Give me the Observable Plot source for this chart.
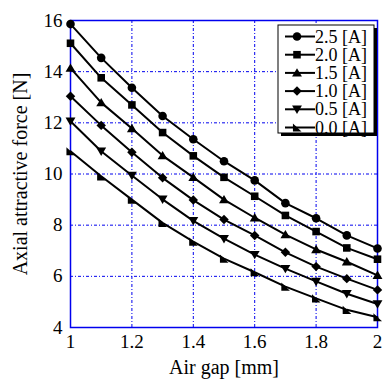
<!DOCTYPE html>
<html>
<head>
<meta charset="utf-8">
<script src="https://cdn.jsdelivr.net/npm/d3@7"></script>
<script src="https://cdn.jsdelivr.net/npm/@observablehq/plot@0.6"></script>
<style>
  html, body { margin: 0; padding: 0; background: white; }
  #chart { position: relative; width: 384px; height: 381px; }
</style>
</head>
<body>
<div id="chart"></div>
<script>
const airGap = [1.0, 1.1, 1.2, 1.3, 1.4, 1.5, 1.6, 1.7, 1.8, 1.9, 2.0];
const seriesNames = ["2.5 [A]", "2.0 [A]", "1.5 [A]", "1.0 [A]", "0.5 [A]", "0.0 [A]"];
const force25 = [15.86, 14.54, 13.37, 12.27, 11.36, 10.50, 9.75, 8.86, 8.27, 7.60, 7.09];
const force20 = [15.11, 13.76, 12.70, 11.62, 10.71, 9.87, 9.13, 8.38, 7.75, 7.11, 6.67];
const force15 = [14.14, 12.79, 11.78, 10.72, 9.87, 9.00, 8.29, 7.63, 7.05, 6.57, 6.04];
const force10 = [13.04, 11.90, 10.85, 9.85, 8.98, 8.22, 7.60, 6.94, 6.38, 5.91, 5.47];
const force05 = [12.06, 10.89, 9.94, 9.01, 8.17, 7.47, 6.85, 6.30, 5.80, 5.32, 4.92];
const force00 = [10.89, 9.91, 9.00, 8.09, 7.36, 6.69, 6.16, 5.60, 5.14, 4.69, 4.40];
const xTicks = [1, 1.2, 1.4, 1.6, 1.8, 2];
const yTicks = [4, 6, 8, 10, 12, 14, 16];

const allValues = [force25, force20, force15, force10, force05, force00];
const data = seriesNames.flatMap((name, s) =>
  airGap.map((x, i) => ({x, y: allValues[s][i], name})));

// custom marker shapes
const triDown = {
  draw(ctx, size) {
    const r = Math.sqrt(size / Math.PI) * 1.15;
    ctx.moveTo(-r, -r * 0.75);
    ctx.lineTo(r, -r * 0.75);
    ctx.lineTo(0, r * 0.95);
    ctx.closePath();
  }
};
const triUp = {
  draw(ctx, size) {
    const r = Math.sqrt(size / Math.PI) * 1.15;
    ctx.moveTo(-r, r * 0.75);
    ctx.lineTo(r, r * 0.75);
    ctx.lineTo(0, -r * 0.95);
    ctx.closePath();
  }
};
const diamond = {
  draw(ctx, size) {
    const r = Math.sqrt(size / Math.PI) * 1.1;
    ctx.moveTo(0, -r);
    ctx.lineTo(r, 0);
    ctx.lineTo(0, r);
    ctx.lineTo(-r, 0);
    ctx.closePath();
  }
};
const square = {
  draw(ctx, size) {
    const r = Math.sqrt(size / Math.PI) * 0.88;
    ctx.rect(-r, -r, 2 * r, 2 * r);
  }
};
const lowerLeft = {
  draw(ctx, size) {
    const r = Math.sqrt(size / Math.PI) * 0.95;
    ctx.moveTo(-r, -r);
    ctx.lineTo(-r, r);
    ctx.lineTo(r * 1.1, r);
    ctx.closePath();
  }
};
const symbols = [d3.symbolCircle, square, triUp, diamond, triDown, lowerLeft];

const font = "'Liberation Serif', 'Times New Roman', serif";
const gridColor = "#0000ee";

const plot = Plot.plot({
  width: 384,
  height: 381,
  marginLeft: 70,
  marginRight: 7,
  marginTop: 20,
  marginBottom: 54,
  style: {fontFamily: font, fontSize: "19px", background: "white", color: "black"},
  x: {domain: [1, 2]},
  y: {domain: [4, 16]},
  symbol: {domain: seriesNames, range: symbols},
  marks: [
    Plot.gridX(xTicks, {stroke: gridColor, strokeOpacity: 1, strokeWidth: 1, strokeDasharray: "3,2,1,2"}),
    Plot.gridY(yTicks, {stroke: gridColor, strokeOpacity: 1, strokeWidth: 1, strokeDasharray: "3,2,1,2"}),
    Plot.frame({stroke: gridColor, strokeWidth: 1.5}),
    Plot.axisX({ticks: xTicks, tickSize: 0, tickPadding: 7, tickFormat: d => String(d),
      label: null, fontSize: 19}),
    Plot.axisX({ticks: [], tickSize: 0,
      label: "Air gap [mm]", labelAnchor: "center", labelOffset: 46, labelArrow: "none", fontSize: 20}),
    Plot.axisY({ticks: yTicks, tickSize: 0, tickPadding: 8, label: null, fontSize: 19}),
    Plot.axisY({ticks: [], tickSize: 0,
      label: "Axial attractive force [N]", labelAnchor: "center", labelOffset: 58, labelArrow: "none", fontSize: 20}),
    Plot.line(data, {x: "x", y: "y", z: "name", stroke: "black", strokeWidth: 2}),
    Plot.dot(data, {x: "x", y: "y", symbol: "name", fill: "black", stroke: "none", r: 4.3})
  ]
});

document.getElementById("chart").appendChild(plot);

// legend box (top right, inside the frame)
const svg = d3.select(plot);
const lg = svg.append("g").attr("font-family", font).attr("font-size", 18).attr("text-anchor", "start");
const bx = 278, by = 25, bw = 96, bh = 108;
lg.append("rect").attr("x", bx + 3).attr("y", by + 3).attr("width", bw).attr("height", bh).attr("fill", "black");
lg.append("rect").attr("x", bx).attr("y", by).attr("width", bw).attr("height", bh)
  .attr("fill", "white").attr("stroke", "black").attr("stroke-width", 1);
seriesNames.forEach((name, i) => {
  const cy = 36.5 + i * 18.2;
  lg.append("line").attr("x1", 285).attr("x2", 315).attr("y1", cy).attr("y2", cy)
    .attr("stroke", "black").attr("stroke-width", 2);
  lg.append("path").attr("transform", `translate(297,${cy})`)
    .attr("d", d3.symbol(symbols[i], Math.PI * 4.3 * 4.3)()).attr("fill", "black");
  lg.append("text").attr("x", 315).attr("y", cy).attr("dy", "0.34em")
    .attr("text-anchor", "start").text(name);
});
</script>
</body>
</html>
